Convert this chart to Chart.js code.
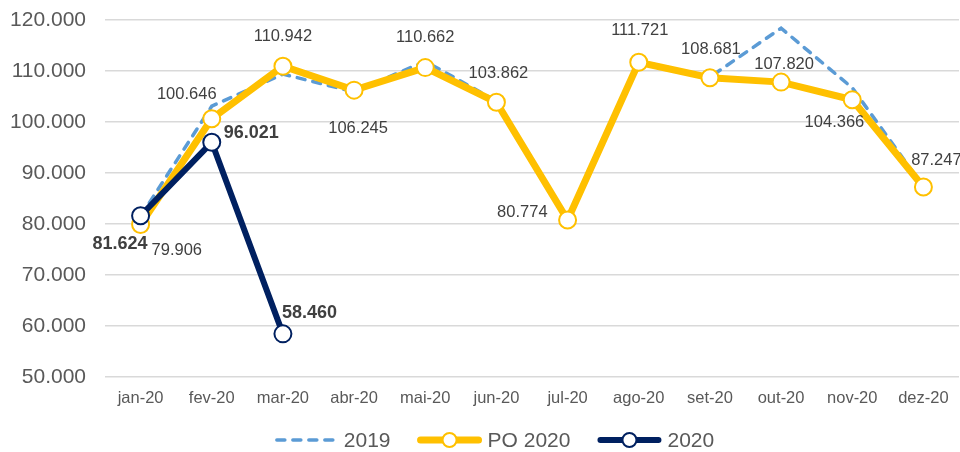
<!DOCTYPE html>
<html>
<head>
<meta charset="utf-8">
<script src="https://cdn.jsdelivr.net/npm/chart.js@4.4.1/dist/chart.umd.min.js"></script>
<style>
  html, body { margin: 0; padding: 0; background: #fff; }
  #wrap { width: 960px; height: 452px; }
</style>
</head>
<body>
<div id="wrap"><canvas id="grafico" width="960" height="452"></canvas></div>
<script>
// dados
const meses = ['jan-20', 'fev-20', 'mar-20', 'abr-20', 'mai-20', 'jun-20', 'jul-20', 'ago-20', 'set-20', 'out-20', 'nov-20', 'dez-20'];
const serie2019 = [81500, 103100, 109400, 105900, 111900, 104100, 80800, 112000, 108800, 118400, 106700, 87300];
const seriePO2020 = [79906, 100646, 110942, 106245, 110662, 103862, 80774, 111721, 108681, 107820, 104366, 87247];
const serie2020 = [81624, 96021, 58460];
const nomes = ['2019', 'PO 2020', '2020'];

// posição dos rótulos (dx, dy, alinhamento) - só estilo
const rotulosPO = [[11, 26, 'left'], [-25, -24, 'center'], [0, -30, 'center'], [4, 38, 'center'], [0, -30, 'center'], [2, -29, 'center'],
  [-20, -8, 'right'], [1, -32, 'center'], [1, -28, 'center'], [3, -18, 'center'], [12, 23, 'right'], [13, -27, 'center']];
const rotulos2020 = [[7, 28, 'right'], [12, -9, 'left'], [-1, -21, 'left']];

const AMARELO = '#FFC000';
const AZUL = '#002060';
const AZUL_CLARO = '#5B9BD5';
const FONTE = '"Liberation Sans", Arial, sans-serif';

const fmt = (n) => String(n).replace(/\B(?=(\d{3})+(?!\d))/g, '.');

const rotulosPlugin = {
    id: 'rotulos',
    afterDatasetsDraw(chart) {
        const ctx = chart.ctx;
        ctx.save();
        ctx.textBaseline = 'middle';
        const desenha = (dsIndex, valores, pos, bold) => {
            const meta = chart.getDatasetMeta(dsIndex);
            ctx.font = (bold ? 'bold 18px ' : '16.5px ') + FONTE;
            ctx.fillStyle = '#404040';
            meta.data.forEach((p, i) => {
                const [dx, dy, al] = pos[i];
                ctx.textAlign = al;
                ctx.fillText(fmt(valores[i]), p.x + dx, p.y + dy);
            });
        };
        desenha(1, seriePO2020, rotulosPO, false);
        desenha(2, serie2020, rotulos2020, true);
        ctx.restore();
    }
};

// legenda desenhada à mão (linha tracejada / linha com marcador)
const legendaPlugin = {
    id: 'legenda',
    afterDraw(chart) {
        const ctx = chart.ctx;
        ctx.save();
        ctx.font = '21px ' + FONTE;
        ctx.textBaseline = 'middle';
        ctx.textAlign = 'left';
        const y = 440;
        const amostra = 64, gap = 6, entre = 27;
        const larguras = nomes.map(n => amostra + gap + ctx.measureText(n).width);
        const total = larguras.reduce((a, b) => a + b, 0) + entre * (nomes.length - 1);
        let x = 494 - total / 2;
        nomes.forEach((nome, i) => {
            const ds = chart.data.datasets[i];
            ctx.beginPath();
            ctx.lineWidth = ds.borderWidth;
            ctx.strokeStyle = ds.borderColor;
            ctx.lineCap = 'round';
            ctx.setLineDash(ds.borderDash || []);
            ctx.moveTo(x + 3, y);
            ctx.lineTo(x + amostra - 3, y);
            ctx.stroke();
            ctx.setLineDash([]);
            if (ds.pointRadius > 0) {
                ctx.beginPath();
                ctx.arc(x + amostra / 2, y, 7, 0, Math.PI * 2);
                ctx.fillStyle = '#fff';
                ctx.fill();
                ctx.lineWidth = 2;
                ctx.stroke();
            }
            ctx.fillStyle = '#595959';
            ctx.fillText(nome, x + amostra + gap, y + 1);
            x += larguras[i] + entre;
        });
        ctx.restore();
    }
};

const ctx = document.getElementById('grafico').getContext('2d');
new Chart(ctx, {
    type: 'line',
    data: {
        labels: meses,
        datasets: [
            {
                label: nomes[0],
                data: serie2019,
                borderColor: AZUL_CLARO,
                borderWidth: 3.5,
                borderDash: [8, 8],
                borderCapStyle: 'round',
                pointRadius: 0,
                pointHoverRadius: 0,
                fill: false,
                tension: 0,
                order: 3
            },
            {
                label: nomes[1],
                data: seriePO2020,
                borderColor: AMARELO,
                borderWidth: 7,
                pointRadius: 8.5,
                pointBorderWidth: 2,
                pointBackgroundColor: '#fff',
                pointBorderColor: AMARELO,
                fill: false,
                tension: 0,
                order: 2
            },
            {
                label: nomes[2],
                data: serie2020,
                borderColor: AZUL,
                borderWidth: 6,
                pointRadius: 8.5,
                pointBorderWidth: 2,
                pointBackgroundColor: '#fff',
                pointBorderColor: AZUL,
                fill: false,
                tension: 0,
                order: 1
            }
        ]
    },
    options: {
        responsive: false,
        animation: false,
        layout: { autoPadding: false, padding: { top: 20, right: 1, left: 0, bottom: 0 } },
        plugins: {
            legend: { display: false },
            tooltip: { enabled: false }
        },
        scales: {
            x: {
                offset: true,
                grid: { display: false },
                border: { display: false },
                ticks: {
                    color: '#595959',
                    padding: 4,
                    font: { family: FONTE, size: 16.5 }
                },
                afterFit: (s) => { s.height = 75; s.paddingLeft = 0; s.paddingRight = 0; }
            },
            y: {
                min: 50000,
                max: 120000,
                grid: { color: '#d9d9d9', lineWidth: 1.5, drawTicks: false },
                border: { display: false },
                ticks: {
                    stepSize: 10000,
                    color: '#595959',
                    padding: 19,
                    font: { family: FONTE, size: 21 },
                    callback: (v) => fmt(v)
                },
                afterFit: (s) => { s.width = 105; s.paddingTop = 0; s.paddingBottom = 0; }
            }
        }
    },
    plugins: [rotulosPlugin, legendaPlugin]
});
</script>
</body>
</html>
